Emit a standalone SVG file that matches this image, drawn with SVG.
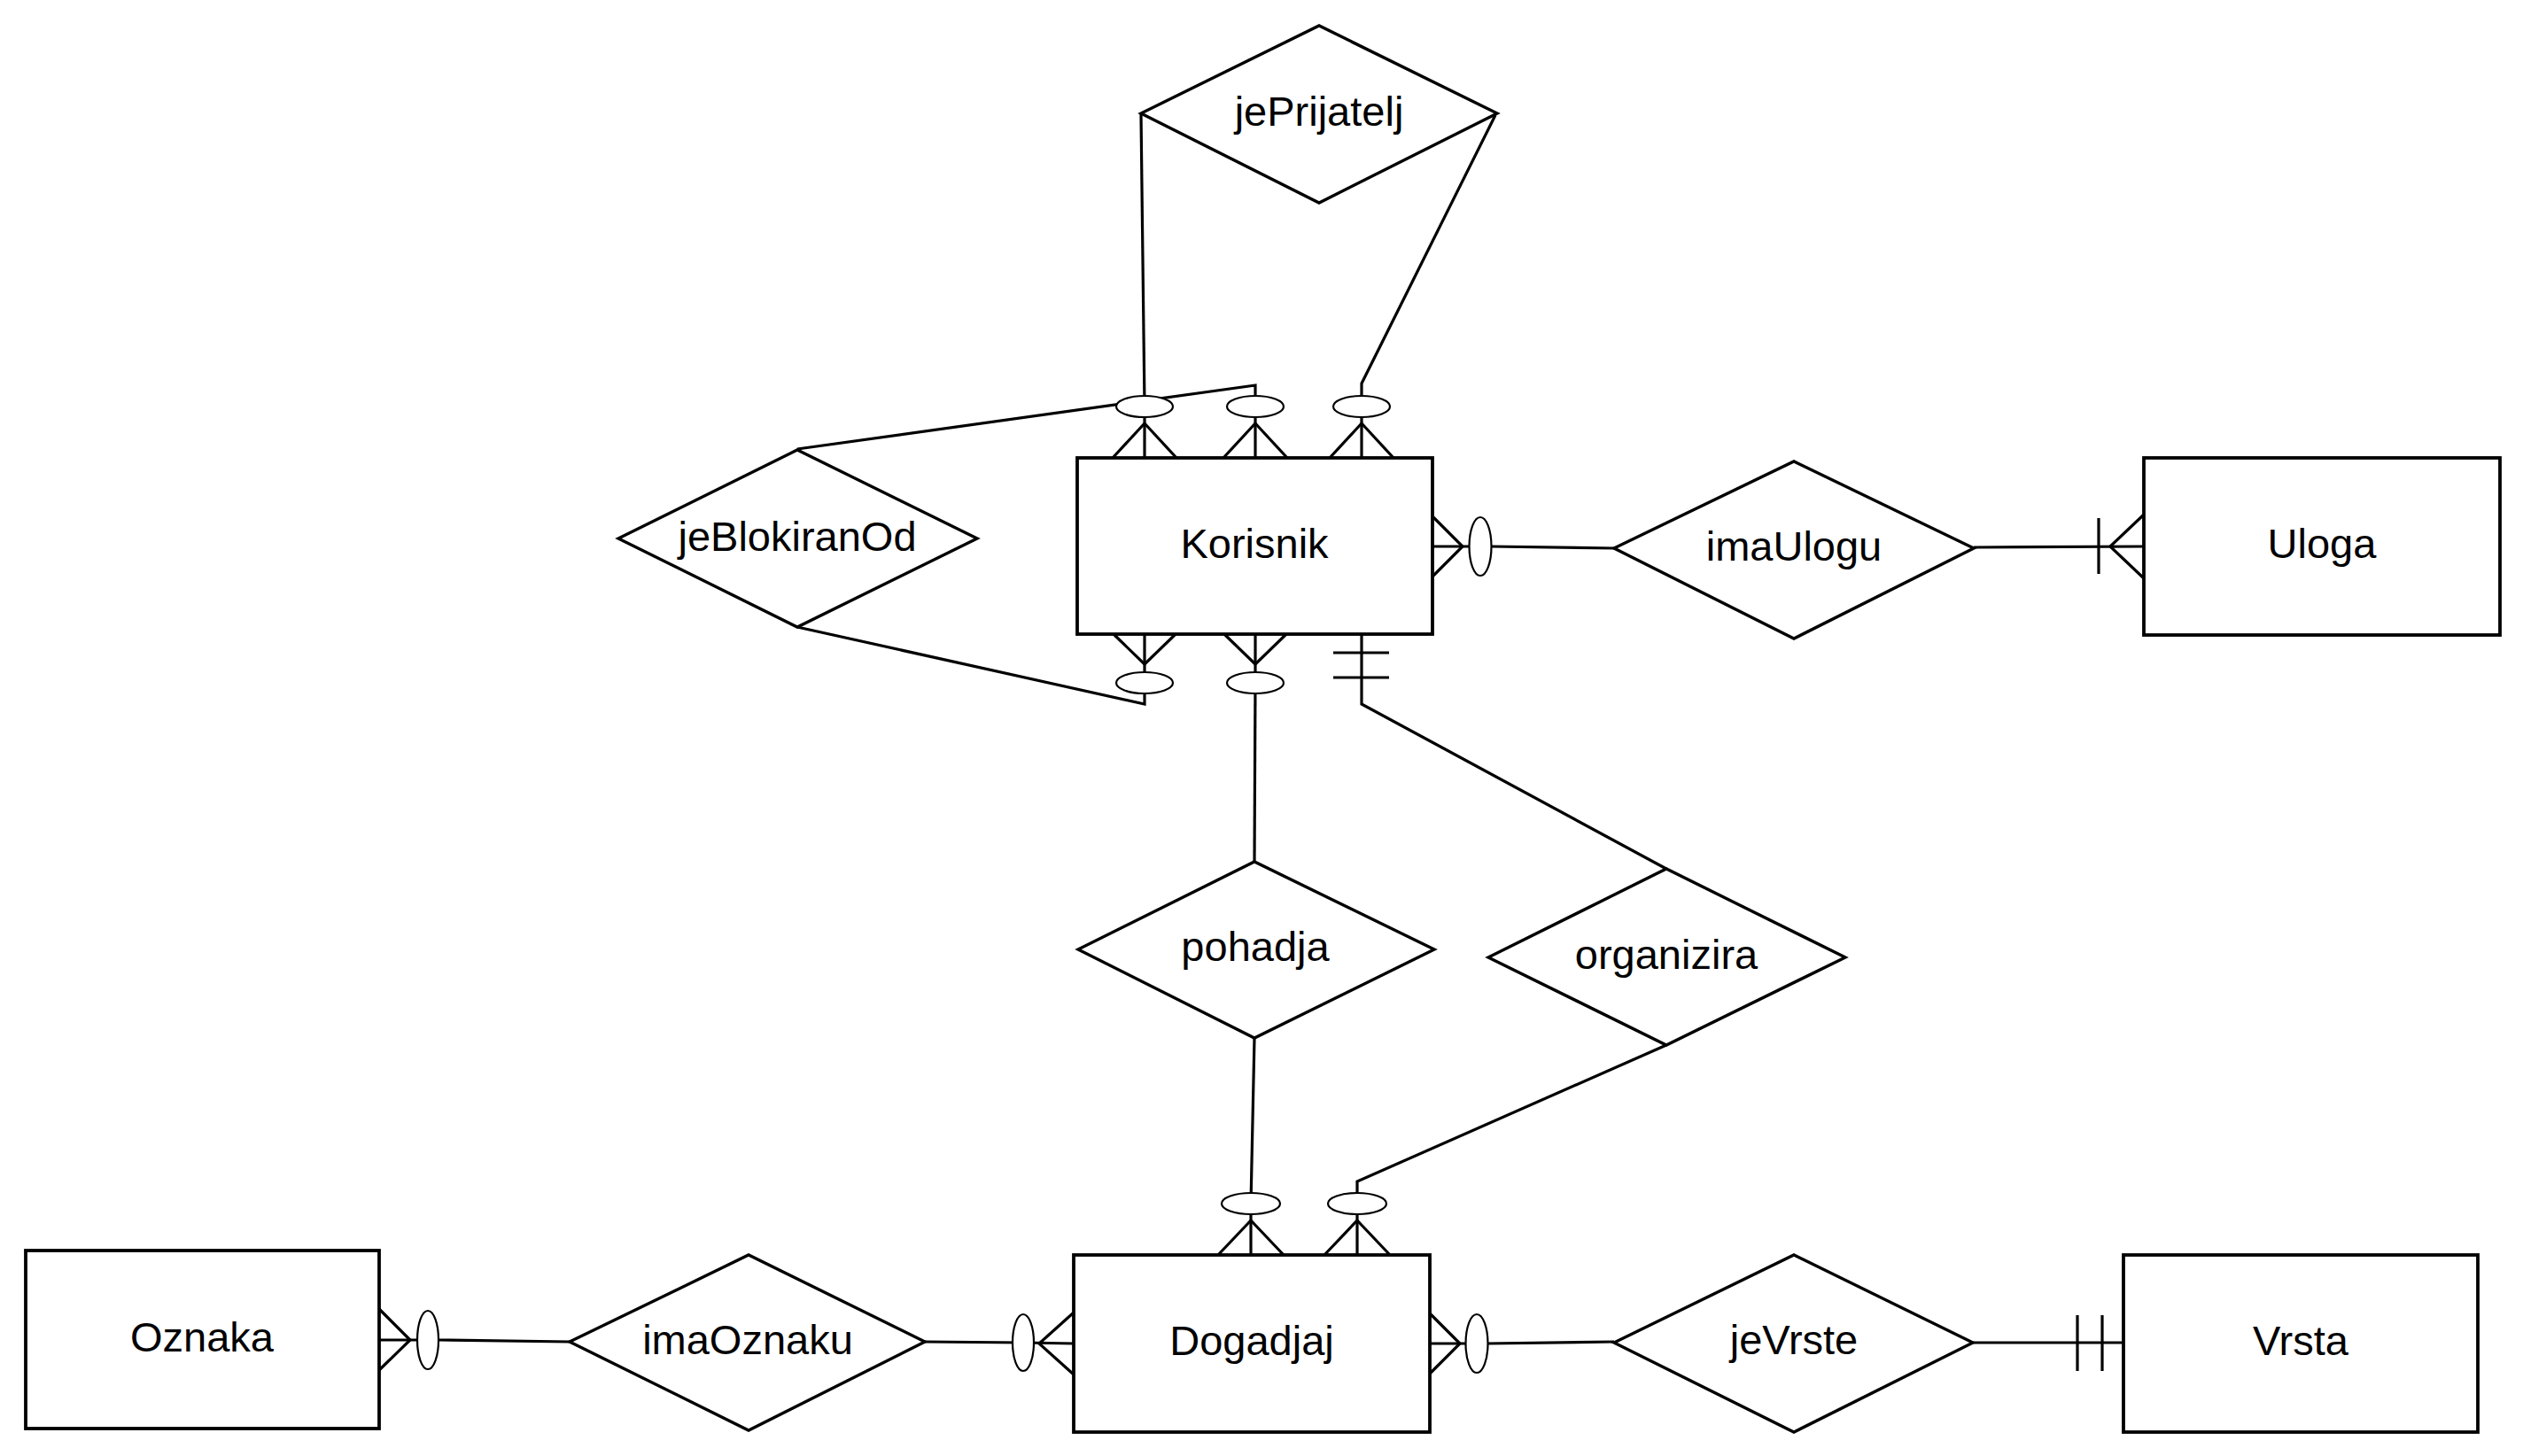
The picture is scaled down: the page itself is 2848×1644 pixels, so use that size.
<svg xmlns="http://www.w3.org/2000/svg" width="2848" height="1644" viewBox="0 0 2848 1644">
<style>
.ent{fill:#fff;stroke:#000;stroke-width:3.8}
.rel{fill:#fff;stroke:#000;stroke-width:3.4}
.lbl{font-family:"Liberation Sans",Arial,Helvetica,sans-serif;font-size:47px;fill:#000;text-anchor:middle}
.c{fill:none;stroke:#000;stroke-width:3.2;stroke-linejoin:miter}
.o{fill:#fff;stroke:#000;stroke-width:2.2}
</style>
<rect width="2848" height="1644" fill="#fff"/>
<g id="connectors">
<!-- jePrijatelj -->
<polyline class="c" points="1288,129 1292,459"/>
<polyline class="c" points="1688,130 1537,433 1537,459"/>
<!-- jeBlokiranOd -->
<polyline class="c" points="900,507 1417,435 1417,459"/>
<polyline class="c" points="900,708 1292,795 1292,771"/>
<!-- pohadja -->
<polyline class="c" points="1417,771 1416,973"/>
<polyline class="c" points="1416,1172 1412,1359"/>
<!-- organizira -->
<polyline class="c" points="1537,716 1537,795 1881,981"/>
<polyline class="c" points="1881,1180 1532,1334 1532,1359"/>
<!-- imaUlogu -->
<polyline class="c" points="1617,617 1671,617"/>
<polyline class="c" points="1683,617 1822,619"/>
<polyline class="c" points="2228,618 2420,617"/>
<!-- imaOznaku -->
<polyline class="c" points="428,1513 483,1513"/>
<polyline class="c" points="495,1513 643,1515"/>
<polyline class="c" points="1044,1515 1155,1516 1212,1517"/>
<!-- jeVrste -->
<polyline class="c" points="1613,1517 1667,1517"/>
<polyline class="c" points="1679,1517 1822,1515"/>
<polyline class="c" points="2227,1516 2397,1516"/>
<!-- crow's feet / bars -->
<polyline class="c" points="1256,517 1292,478 1328,517"/>
<line class="c" x1="1292" y1="517" x2="1292" y2="470"/>
<polyline class="c" points="1381,517 1417,478 1453,517"/>
<line class="c" x1="1417" y1="517" x2="1417" y2="470"/>
<polyline class="c" points="1501,517 1537,478 1573,517"/>
<line class="c" x1="1537" y1="517" x2="1537" y2="470"/>
<polyline class="c" points="1257,716 1292,750 1327,716"/>
<line class="c" x1="1292" y1="716" x2="1292" y2="760"/>
<polyline class="c" points="1382,716 1417,750 1452,716"/>
<line class="c" x1="1417" y1="716" x2="1417" y2="760"/>
<line class="c" x1="1505" y1="737" x2="1568" y2="737"/>
<line class="c" x1="1505" y1="765" x2="1568" y2="765"/>
<polyline class="c" points="1617,583 1651,617 1617,651"/>
<line class="c" x1="2369" y1="585" x2="2369" y2="648"/>
<polyline class="c" points="2420,581 2382,617 2420,653"/>
<polyline class="c" points="1375,1417 1412,1378 1449,1417"/>
<line class="c" x1="1412" y1="1417" x2="1412" y2="1370"/>
<polyline class="c" points="1495,1417 1532,1378 1569,1417"/>
<line class="c" x1="1532" y1="1417" x2="1532" y2="1370"/>
<polyline class="c" points="1212,1482 1173,1517 1212,1552"/>
<polyline class="c" points="428,1478 463,1513 428,1547"/>
<polyline class="c" points="1613,1482 1648,1517 1613,1552"/>
<line class="c" x1="2345" y1="1485" x2="2345" y2="1548"/>
<line class="c" x1="2373" y1="1485" x2="2373" y2="1548"/>
<!-- optional circles -->
<ellipse class="o" cx="1292" cy="459" rx="32" ry="12"/>
<ellipse class="o" cx="1417" cy="459" rx="32" ry="12"/>
<ellipse class="o" cx="1537" cy="459" rx="32" ry="12"/>
<ellipse class="o" cx="1292" cy="771" rx="32" ry="12"/>
<ellipse class="o" cx="1417" cy="771" rx="32" ry="12"/>
<ellipse class="o" cx="1671" cy="617" rx="12.5" ry="33"/>
<ellipse class="o" cx="1412" cy="1359" rx="33" ry="12"/>
<ellipse class="o" cx="1532" cy="1359" rx="33" ry="12"/>
<ellipse class="o" cx="1155" cy="1516" rx="12" ry="32"/>
<ellipse class="o" cx="483" cy="1513" rx="12" ry="33"/>
<ellipse class="o" cx="1667" cy="1517" rx="12.5" ry="33"/>
</g>
<g id="Korisnik"><rect class="ent" x="1216" y="517" width="401" height="199"/><text class="lbl" x="1416" y="630">Korisnik</text></g>
<g id="Uloga"><rect class="ent" x="2420" y="517" width="402" height="200"/><text class="lbl" x="2621" y="630">Uloga</text></g>
<g id="Oznaka"><rect class="ent" x="29" y="1412" width="399" height="201"/><text class="lbl" x="228" y="1526">Oznaka</text></g>
<g id="Dogadjaj"><rect class="ent" x="1212" y="1417" width="402" height="200"/><text class="lbl" x="1413" y="1530">Dogadjaj</text></g>
<g id="Vrsta"><rect class="ent" x="2397" y="1417" width="400" height="200"/><text class="lbl" x="2597" y="1530">Vrsta</text></g>
<g id="jePrijatelj"><polygon class="rel" points="1288,128 1489,29 1690,128 1489,229"/><text class="lbl" x="1489" y="142">jePrijatelj</text></g>
<g id="jeBlokiranOd"><polygon class="rel" points="698,608 900,508 1103,608 900,708"/><text class="lbl" x="900" y="622">jeBlokiranOd</text></g>
<g id="imaUlogu"><polygon class="rel" points="1822,619 2025,521 2228,619 2025,721"/><text class="lbl" x="2025" y="633">imaUlogu</text></g>
<g id="pohadja"><polygon class="rel" points="1217,1072 1416,973 1619,1072 1416,1172"/><text class="lbl" x="1417" y="1085">pohadja</text></g>
<g id="organizira"><polygon class="rel" points="1680,1081 1881,981 2083,1081 1881,1180"/><text class="lbl" x="1881" y="1094">organizira</text></g>
<g id="imaOznaku"><polygon class="rel" points="643,1515 845,1417 1044,1515 845,1615"/><text class="lbl" x="844" y="1529">imaOznaku</text></g>
<g id="jeVrste"><polygon class="rel" points="1822,1516 2025,1417 2227,1516 2025,1617"/><text class="lbl" x="2025" y="1529">jeVrste</text></g>
</svg>
